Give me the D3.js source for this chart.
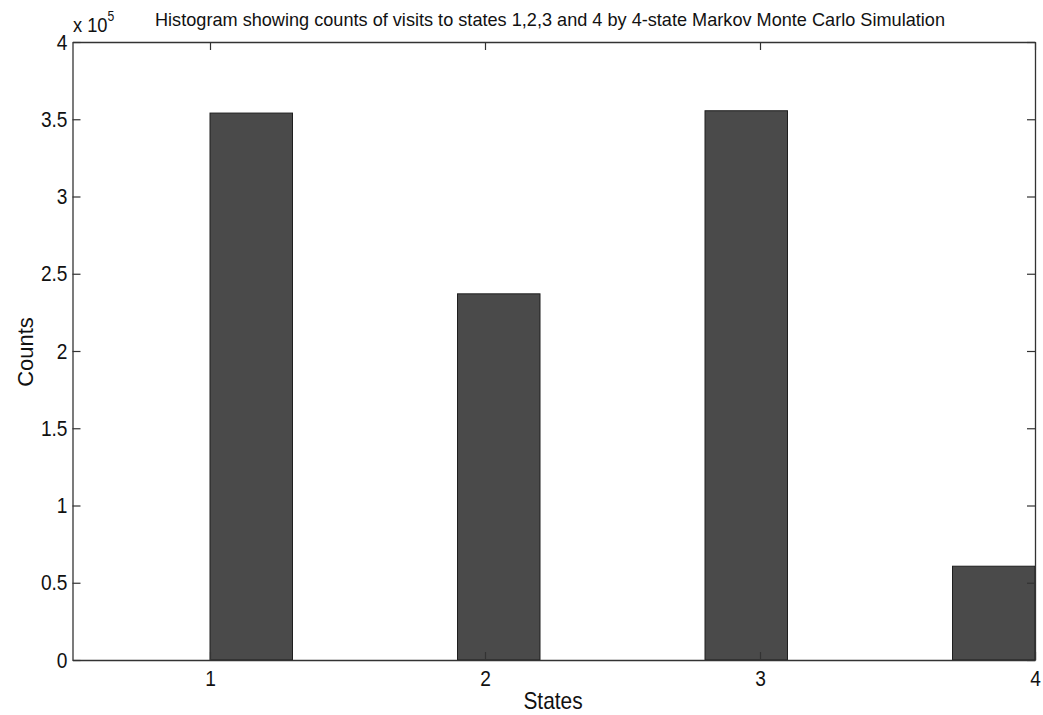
<!DOCTYPE html>
<html>
<head>
<meta charset="utf-8">
<script src="https://cdn.jsdelivr.net/npm/d3@7"></script>
<style>
  html, body { margin: 0; padding: 0; background: #fff; }
  svg { display: block; font-family: "Liberation Sans", Arial, sans-serif; }
</style>
</head>
<body>
<svg id="chart" width="1043" height="715"></svg>
<script>
// Data (counts in units of 10^5), hist with 10 bins on [1,4]
const binCenters = [1.15, 1.45, 1.75, 2.05, 2.35, 2.65, 2.95, 3.25, 3.55, 3.85];
const binCounts  = [3.54, 0, 0, 2.37, 0, 0, 3.555, 0, 0, 0.607];
const binWidth = 0.3;
const xTicks = [1, 2, 3, 4];
const yTicks = [0, 0.5, 1, 1.5, 2, 2.5, 3, 3.5, 4];
const titleText = "Histogram showing counts of visits to states 1,2,3 and 4 by 4-state Markov Monte Carlo Simulation";
const xLabel = "States";
const yLabel = "Counts";

const svg = d3.select("#chart");
const m = { left: 72.5, right: 1035, top: 42, bottom: 660 };
const sx = 0.87; // horizontal glyph compression

const x = d3.scaleLinear().domain([0.5, 4]).range([m.left, m.right]);
const y = d3.scaleLinear().domain([0, 4]).range([m.bottom, m.top]);

// Bars
svg.append("g").selectAll("rect")
  .data(binCenters.map((c, i) => ({ c, v: binCounts[i] })).filter(d => d.v > 0))
  .join("rect")
  .attr("x", d => x(d.c - binWidth / 2))
  .attr("width", d => x(d.c + binWidth / 2) - x(d.c - binWidth / 2))
  .attr("y", d => y(d.v))
  .attr("height", d => y(0) - y(d.v))
  .attr("fill", "#4a4a4a")
  .attr("stroke", "#1e1e1e")
  .attr("stroke-width", 1);

// Axes
const tickLen = 8;
const axB = svg.append("g").attr("transform", `translate(0,${m.bottom})`)
  .call(d3.axisBottom(x).tickValues(xTicks).tickFormat(d3.format("d")).tickSizeInner(-tickLen).tickSizeOuter(0).tickPadding(10));
const axT = svg.append("g").attr("transform", `translate(0,${m.top})`)
  .call(d3.axisTop(x).tickValues(xTicks).tickFormat("").tickSizeInner(-tickLen).tickSizeOuter(0));
const axL = svg.append("g").attr("transform", `translate(${m.left},0)`)
  .call(d3.axisLeft(y).tickValues(yTicks).tickFormat(d3.format("~g")).tickSizeInner(-tickLen).tickSizeOuter(0).tickPadding(5));
const axR = svg.append("g").attr("transform", `translate(${m.right},0)`)
  .call(d3.axisRight(y).tickValues(yTicks).tickFormat("").tickSizeInner(-tickLen).tickSizeOuter(0));

[axB, axT, axL, axR].forEach(a => {
  a.select(".domain").attr("stroke", "#333").attr("stroke-width", 1.3);
  a.selectAll(".tick line").attr("stroke", "#333").attr("stroke-width", 1.2);
  a.selectAll("text").attr("fill", "#111").style("font-size", "22px")
    .style("font-family", '"Liberation Sans", Arial, sans-serif');
});
axB.selectAll(".tick text").attr("transform", `scale(${sx},1)`);
axL.selectAll(".tick text").attr("x", -5 / sx).attr("transform", `scale(${sx},1)`);

// Exponent label
const ex = svg.append("text").attr("transform", `translate(73,32) scale(${sx},1)`)
  .attr("fill", "#111").style("font-size", "21px");
ex.append("tspan").text("x 10");
ex.append("tspan").attr("dy", -11).style("font-size", "14px").text("5");

// Title
svg.append("text").attr("x", 155).attr("y", 26)
  .attr("textLength", 790).attr("lengthAdjust", "spacingAndGlyphs")
  .attr("fill", "#111").style("font-size", "19px").text(titleText);

// Axis labels
svg.append("text").attr("transform", `translate(553,709) scale(${sx},1)`).attr("text-anchor", "middle")
  .attr("fill", "#111").style("font-size", "24px").text(xLabel);
svg.append("text").attr("transform", "translate(33,352) rotate(-90)").attr("text-anchor", "middle")
  .attr("fill", "#111").style("font-size", "22px").text(yLabel);
</script>
</body>
</html>
